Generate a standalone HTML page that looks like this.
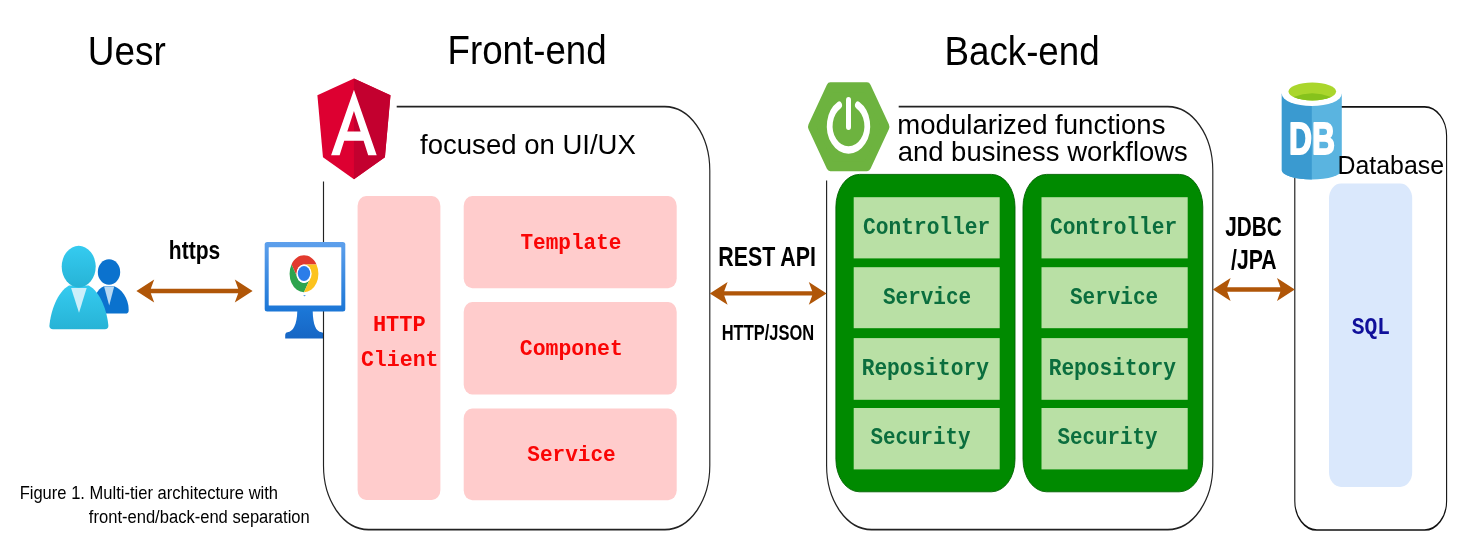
<!DOCTYPE html>
<html lang="en"><head><meta charset="utf-8"><title>Multi-tier architecture</title>
<style>html,body{margin:0;padding:0;background:#fff;overflow:hidden}svg{display:block;will-change:transform}text{white-space:pre}</style></head>
<body>
<svg width="1459" height="546" viewBox="0 0 1459 546">
<rect width="1459" height="546" fill="#fff"/>
<defs>
<linearGradient id="gUserBig" x1="0" y1="0" x2="0" y2="1"><stop offset="0" stop-color="#35CBF0"/><stop offset="1" stop-color="#27B3D6"/></linearGradient>
<linearGradient id="gMon" x1="0" y1="0" x2="0" y2="1"><stop offset="0" stop-color="#5EA0EC"/><stop offset="1" stop-color="#1B76D6"/></linearGradient>
<linearGradient id="gStand" x1="0" y1="0" x2="0" y2="1"><stop offset="0" stop-color="#1B76D6"/><stop offset="1" stop-color="#1766C4"/></linearGradient>
</defs>
<text transform="matrix(0.3698 0 0 0.4096 87.73 64.90)" font-family='"Liberation Sans", sans-serif' font-weight="normal" font-size="100" fill="#000" >Uesr</text>
<text transform="matrix(0.3671 0 0 0.4082 447.57 64.00)" font-family='"Liberation Sans", sans-serif' font-weight="normal" font-size="100" fill="#000" >Front-end</text>
<text transform="matrix(0.3674 0 0 0.4068 944.47 64.80)" font-family='"Liberation Sans", sans-serif' font-weight="normal" font-size="100" fill="#000" >Back-end</text>
<g id="users">
<ellipse cx="109" cy="272" rx="11.2" ry="12.7" fill="#0B72CE"/>
<path d="M92,313.6 C92,300 97,288.5 104,286.3 L114.2,286.3 C121,288.5 128.7,298 128.7,310 C128.7,312.6 127.7,313.6 125.2,313.6 Z" fill="#0B72CE"/>
<polygon points="104.1,286.5 114.2,286.5 109.2,305.5" fill="#B9D9F3"/>
<path d="M53,329.2 C50.6,329.2 49.4,328 49.4,326 C50.5,312 57,292 69,285.4 L88.8,285.4 C100.8,292 107.3,312 108.4,326 C108.4,328 107.2,329.2 104.8,329.2 Z" fill="url(#gUserBig)"/>
<polygon points="71.1,288.1 86.7,288.1 79,312.8" fill="#CDEFFA"/>
<ellipse cx="78.7" cy="266.6" rx="17" ry="20.8" fill="url(#gUserBig)"/>
</g>
<text transform="matrix(0.2105 0 0 0.2581 168.83 259.40)" font-family='"Liberation Sans", sans-serif' font-weight="bold" font-size="100" fill="#000" >https</text>
<path d="M297.3,311 L312.7,311 C313,325 316,331.5 321.5,332.3 C323,332.5 323.7,333.5 323.7,335.5 L323.7,338.5 L285.2,338.5 L285.2,335.5 C285.2,333.5 286,332.5 287.5,332.3 C293,331.5 297,325 297.3,311 Z" fill="url(#gStand)"/>
<path transform="scale(1 1.4)" d="M396.7,76.14 L664.8,76.14 A45,45.71 0 0 1 709.8,121.86 L709.8,332.57 A45,45.71 0 0 1 664.8,378.29 L368.5,378.29 A45,45.71 0 0 1 323.5,332.57 L323.5,129.64" fill="none" stroke="#222" stroke-width="1.15"/>
<g id="monitor">
<rect x="264.70" y="242.10" width="80.60" height="69.30" rx="2.5" ry="2.5" fill="url(#gMon)" />
<rect x="268.70" y="247.20" width="72.60" height="58.30" rx="0.5" ry="0.5" fill="#fff" />
<ellipse cx="304.0" cy="273.7" rx="14.4" ry="18.5" fill="#fff"/>
<path d="M291.53,264.45 A14.4,18.5 0 0 1 316.47,264.45 L304.00,264.45 A7.2,9.25 0 0 0 297.76,278.32 Z" fill="#E23A2E"/>
<path d="M304.00,292.20 A14.4,18.5 0 0 1 291.53,264.45 L297.76,278.32 A7.2,9.25 0 0 0 310.24,278.32 Z" fill="#2DA44E"/>
<path d="M316.47,264.45 A14.4,18.5 0 0 1 304.00,292.20 L310.24,278.32 A7.2,9.25 0 0 0 304.00,264.45 Z" fill="#FCC31E"/>
<ellipse cx="304.0" cy="273.7" rx="7.63" ry="9.25" fill="#fff"/>
<ellipse cx="304.0" cy="273.5" rx="6.2" ry="7.5" fill="#2B7DE9"/>
<polygon points="303.2,294.9 305.8,294.9 304.5,296.6" fill="#5B9BE6"/>
</g>
<rect x="357.60" y="196.00" width="82.80" height="304.00" rx="8.5" ry="10" fill="#FFCCCC" />
<rect x="463.70" y="196.00" width="213.00" height="92.20" rx="8.5" ry="10" fill="#FFCCCC" />
<rect x="463.70" y="302.10" width="213.00" height="92.30" rx="8.5" ry="10" fill="#FFCCCC" />
<rect x="463.70" y="408.50" width="213.00" height="91.80" rx="8.5" ry="10" fill="#FFCCCC" />
<text transform="matrix(0.2105 0 0 0.2297 520.47 249.30)" font-family='"Liberation Mono", monospace' font-weight="bold" font-size="100" fill="#FA0505" >Template</text>
<text transform="matrix(0.2148 0 0 0.2297 519.84 355.10)" font-family='"Liberation Mono", monospace' font-weight="bold" font-size="100" fill="#FA0505" >Componet</text>
<text transform="matrix(0.2105 0 0 0.2297 527.28 461.20)" font-family='"Liberation Mono", monospace' font-weight="bold" font-size="100" fill="#FA0505" >Service</text>
<text transform="matrix(0.2201 0 0 0.2297 372.91 331.30)" font-family='"Liberation Mono", monospace' font-weight="bold" font-size="100" fill="#FA0505" >HTTP</text>
<text transform="matrix(0.2156 0 0 0.2297 360.94 366.20)" font-family='"Liberation Mono", monospace' font-weight="bold" font-size="100" fill="#FA0505" >Client</text>
<text transform="matrix(0.2753 0 0 0.2691 420.09 153.70)" font-family='"Liberation Sans", sans-serif' font-weight="normal" font-size="100" fill="#000" >focused on UI/UX</text>
<g id="angular">
<polygon points="353.94,78.50 317.40,95.22 322.97,157.20 353.94,179.20 384.91,157.20 390.48,95.22" fill="#DD0031"/>
<polygon points="353.94,78.50 353.94,179.20 384.91,157.20 390.48,95.22" fill="#C3002F"/>
<path d="M353.94,89.63 L331.10,155.33 L339.62,155.33 L344.21,140.63 L363.60,140.63 L368.19,155.33 L376.71,155.33 Z M360.61,131.57 L347.27,131.57 L353.94,110.98 Z" fill="#fff" fill-rule="evenodd"/>
</g>
<text transform="matrix(0.2137 0 0 0.2689 718.26 265.60)" font-family='"Liberation Sans", sans-serif' font-weight="bold" font-size="100" fill="#000" >REST API</text>
<text transform="matrix(0.1650 0 0 0.2151 721.69 339.90)" font-family='"Liberation Sans", sans-serif' font-weight="bold" font-size="100" fill="#000" >HTTP/JSON</text>
<path transform="scale(1 1.4)" d="M898.7,76.14 L1167.8,76.14 A45,45.71 0 0 1 1212.8,121.86 L1212.8,332.57 A45,45.71 0 0 1 1167.8,378.29 L871.6,378.29 A45,45.71 0 0 1 826.6,332.57 L826.6,128.93" fill="none" stroke="#222" stroke-width="1.15"/>
<rect x="835.90" y="174.40" width="179.10" height="317.40" rx="23.5" ry="32.5" fill="#008A00" stroke="#006200" stroke-width="0.9" />
<rect x="853.70" y="197.20" width="146.00" height="61.20" rx="0" ry="0" fill="#B9E0A5" />
<rect x="853.70" y="267.20" width="146.00" height="61.00" rx="0" ry="0" fill="#B9E0A5" />
<rect x="853.70" y="338.10" width="146.00" height="61.70" rx="0" ry="0" fill="#B9E0A5" />
<rect x="853.70" y="408.00" width="146.00" height="61.40" rx="0" ry="0" fill="#B9E0A5" />
<rect x="1023.00" y="174.40" width="179.80" height="317.40" rx="23.5" ry="32.5" fill="#008A00" stroke="#006200" stroke-width="0.9" />
<rect x="1041.50" y="197.20" width="146.20" height="61.20" rx="0" ry="0" fill="#B9E0A5" />
<rect x="1041.50" y="267.20" width="146.20" height="61.00" rx="0" ry="0" fill="#B9E0A5" />
<rect x="1041.50" y="338.10" width="146.20" height="61.70" rx="0" ry="0" fill="#B9E0A5" />
<rect x="1041.50" y="408.00" width="146.20" height="61.40" rx="0" ry="0" fill="#B9E0A5" />
<text transform="matrix(0.2121 0 0 0.2327 863.05 234.30)" font-family='"Liberation Mono", monospace' font-weight="bold" font-size="100" fill="#0B6E3E" >Controller</text>
<text transform="matrix(0.2100 0 0 0.2327 882.98 303.80)" font-family='"Liberation Mono", monospace' font-weight="bold" font-size="100" fill="#0B6E3E" >Service</text>
<text transform="matrix(0.2121 0 0 0.2327 861.67 375.00)" font-family='"Liberation Mono", monospace' font-weight="bold" font-size="100" fill="#0B6E3E" >Repository</text>
<text transform="matrix(0.2088 0 0 0.2327 870.38 444.40)" font-family='"Liberation Mono", monospace' font-weight="bold" font-size="100" fill="#0B6E3E" >Security</text>
<text transform="matrix(0.2121 0 0 0.2327 1050.05 234.30)" font-family='"Liberation Mono", monospace' font-weight="bold" font-size="100" fill="#0B6E3E" >Controller</text>
<text transform="matrix(0.2100 0 0 0.2327 1069.98 303.80)" font-family='"Liberation Mono", monospace' font-weight="bold" font-size="100" fill="#0B6E3E" >Service</text>
<text transform="matrix(0.2121 0 0 0.2327 1048.67 375.00)" font-family='"Liberation Mono", monospace' font-weight="bold" font-size="100" fill="#0B6E3E" >Repository</text>
<text transform="matrix(0.2088 0 0 0.2327 1057.38 444.40)" font-family='"Liberation Mono", monospace' font-weight="bold" font-size="100" fill="#0B6E3E" >Security</text>
<text transform="matrix(0.2758 0 0 0.2677 897.34 133.60)" font-family='"Liberation Sans", sans-serif' font-weight="normal" font-size="100" fill="#000" >modularized functions</text>
<text transform="matrix(0.2749 0 0 0.2677 897.63 160.50)" font-family='"Liberation Sans", sans-serif' font-weight="normal" font-size="100" fill="#000" >and business workflows</text>
<g id="spring">
<polygon transform="translate(848.7 126.8) scale(1 1.244)" points="36.68,0.00 18.34,31.77 -18.34,31.77 -36.68,0.00 -18.34,-31.77 18.34,-31.77" fill="#6DB33F" stroke="#6DB33F" stroke-width="8" stroke-linejoin="round"/>
<g transform="translate(848.5 126.0) scale(1 1.28)" fill="none" stroke="#fff" stroke-linecap="round"><path d="M9.40,-16.28 A18.8,18.8 0 1 1 -9.40,-16.28" stroke-width="5.8"/><line x1="0" y1="-20.2" x2="0" y2="0.6" stroke-width="5"/></g>
</g>
<text transform="matrix(0.2078 0 0 0.2776 1225.29 235.80)" font-family='"Liberation Sans", sans-serif' font-weight="bold" font-size="100" fill="#000" >JDBC</text>
<text transform="matrix(0.2121 0 0 0.2747 1230.99 269.20)" font-family='"Liberation Sans", sans-serif' font-weight="bold" font-size="100" fill="#000" >/JPA</text>
<path transform="scale(1 1.55)" d="M1341,68.90 L1424.6,68.90 A22,18.71 0 0 1 1446.6,87.61 L1446.6,323.23 A22,18.71 0 0 1 1424.6,341.94 L1316.8,341.94 A22,18.71 0 0 1 1294.8,323.23 L1294.8,113.16" fill="none" stroke="#111" stroke-width="1.1"/>
<rect x="1329.00" y="183.60" width="83.20" height="303.30" rx="12" ry="15" fill="#DAE8FC" />
<text transform="matrix(0.2124 0 0 0.2373 1351.78 334.10)" font-family='"Liberation Mono", monospace' font-weight="bold" font-size="100" fill="#10109A" >SQL</text>
<g id="db">
<path d="M1281.8,93.7 L1281.8,170.2 A30.0,9.3 0 0 0 1341.8,170.2 L1341.8,93.7 Z" fill="#5AB4E0"/>
<path d="M1281.8,93.7 L1281.8,170.2 A30.0,9.3 0 0 0 1311.8,179.5 L1311.8,93.7 Z" fill="#3A9AD0"/>
<ellipse cx="1311.8" cy="93.8" rx="30.0" ry="12.2" fill="#fff"/>
<ellipse cx="1312.3" cy="91.5" rx="23.8" ry="9" fill="#AAD62C"/>
<path d="M1293.5,96.9 Q1312.3,89.5 1331.1,96.9 A23.8,9 0 0 1 1293.5,96.9 Z" fill="#86C21C"/>
<text transform="matrix(0.3189 0 0 0.4348 1288.90 153.66)" font-family='"Liberation Sans", sans-serif' font-weight="bold" font-size="100" fill="#fff" stroke="#fff" stroke-width="4.08" stroke-linejoin="round" >DB</text>
</g>
<text transform="matrix(0.2489 0 0 0.2655 1337.55 173.50)" font-family='"Liberation Sans", sans-serif' font-weight="normal" font-size="100" fill="#000" >Database</text>
<polygon points="136.40,291.00 154.20,279.60 150.80,288.85 238.20,288.85 234.80,279.60 252.60,291.00 234.80,302.40 238.20,293.15 150.80,293.15 154.20,302.40" fill="#B05608"/>
<polygon points="709.80,293.40 727.60,282.00 724.20,291.25 812.20,291.25 808.80,282.00 826.60,293.40 808.80,304.80 812.20,295.55 724.20,295.55 727.60,304.80" fill="#B05608"/>
<polygon points="1212.80,289.50 1230.60,278.10 1227.20,287.35 1280.40,287.35 1277.00,278.10 1294.80,289.50 1277.00,300.90 1280.40,291.65 1227.20,291.65 1230.60,300.90" fill="#B05608"/>
<text transform="matrix(0.1655 0 0 0.1744 19.63 498.90)" font-family='"Liberation Sans", sans-serif' font-weight="normal" font-size="100" fill="#000" >Figure 1. Multi-tier architecture with</text>
<text transform="matrix(0.1657 0 0 0.1757 88.85 522.70)" font-family='"Liberation Sans", sans-serif' font-weight="normal" font-size="100" fill="#000" >front-end/back-end separation</text>
</svg>
</body></html>
